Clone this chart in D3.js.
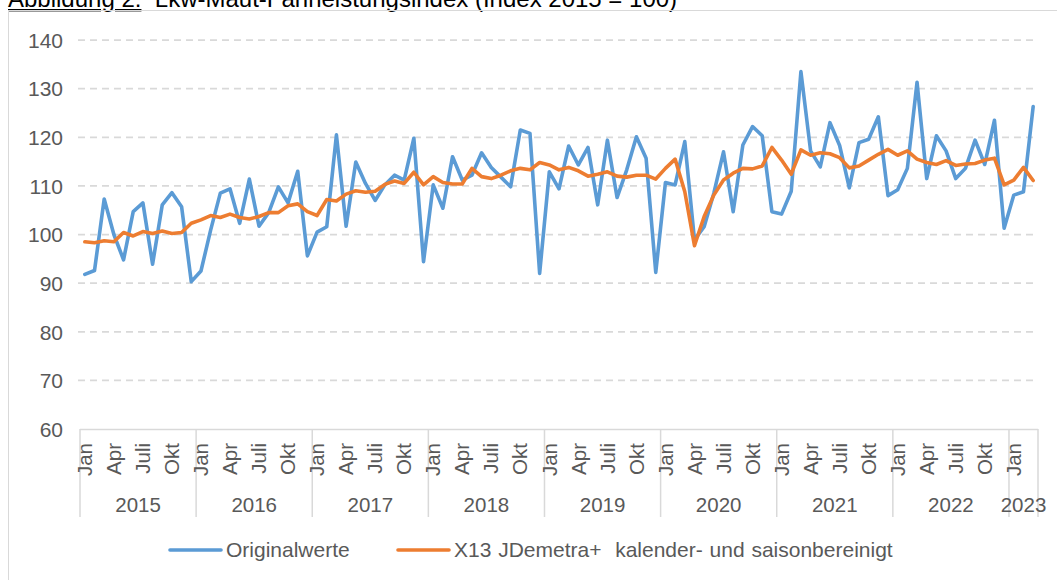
<!DOCTYPE html>
<html>
<head>
<meta charset="utf-8">
<script src="https://cdn.jsdelivr.net/npm/d3@7"></script>
<style>
    body { margin: 0; background: #fff; }
    svg { display: block; font-family: "Liberation Sans", Arial, sans-serif; }
</style>
</head>
<body>
<div id="chart"></div>
<script>
// categories: Jan 2015 .. Mar 2023
var years = ["2015", "2016", "2017", "2018", "2019", "2020", "2021", "2022", "2023"];
var monthsPerYear = [12, 12, 12, 12, 12, 12, 12, 12, 3];
var monthNames = ["Jan", "Feb", "Mär", "Apr", "Mai", "Juni", "Juli", "Aug", "Sep", "Okt", "Nov", "Dez"];
var shownMonths = ["Jan", "Apr", "Juli", "Okt"];
var yTicks = [60, 70, 80, 90, 100, 110, 120, 130, 140];

// Originalwerte
var original = [
    91.8, 92.6, 107.3, 100.0, 94.8, 104.7, 106.5, 93.9, 106.1, 108.6, 105.7, 90.3,
    92.5, 100.9, 108.5, 109.4, 102.3, 111.4, 101.7, 104.5, 109.8, 106.5, 113.0, 95.6,
    100.5, 101.6, 120.5, 101.7, 114.9, 110.5, 107.0, 110.2, 112.2, 111.2, 119.8, 94.4,
    110.2, 105.4, 116.0, 111.2, 112.2, 116.8, 113.8, 111.8, 109.8, 121.5, 120.8, 92.0,
    112.9, 109.4, 118.2, 114.3, 117.9, 106.1, 119.4, 107.6, 113.3, 120.1, 115.7, 92.2,
    110.7, 110.2, 119.1, 98.9, 101.6, 108.5, 117.0, 104.7, 118.4, 122.2, 120.3, 104.7,
    104.2, 108.9, 133.5, 117.2, 113.9, 123.0, 118.3, 109.6, 118.9, 119.6, 124.2, 108.0,
    109.2, 113.6, 131.3, 111.5, 120.3, 117.2, 111.5, 113.6, 119.4, 114.4, 123.5, 101.3,
    108.1, 108.8, 126.3
];

// X13 JDemetra+ kalender- und saisonbereinigt
var adjusted = [
    98.5, 98.3, 98.7, 98.5, 100.4, 99.7, 100.6, 100.2, 100.7, 100.2, 100.4, 102.3,
    103.0, 103.9, 103.5, 104.2, 103.5, 103.2, 103.7, 104.5, 104.5, 105.9, 106.3, 104.7,
    103.9, 107.2, 106.9, 108.3, 109.0, 108.7, 108.9, 110.3, 111.0, 110.5, 112.8, 110.2,
    111.9, 110.7, 110.4, 110.4, 113.6, 111.9, 111.5, 112.2, 113.1, 113.6, 113.3, 114.8,
    114.3, 113.3, 113.8, 113.1, 112.0, 112.4, 112.9, 112.0, 111.8, 112.2, 112.2, 111.4,
    113.6, 115.5, 108.8, 97.7, 103.7, 108.1, 111.2, 112.6, 113.6, 113.5, 114.1, 117.9,
    115.3, 112.4, 117.4, 116.3, 116.8, 116.6, 115.8, 113.7, 114.1, 115.3, 116.5, 117.5,
    116.3, 117.2, 115.5, 114.8, 114.4, 115.2, 114.2, 114.5, 114.6, 115.3, 115.7, 110.2,
    111.2, 113.8, 111.1
];

var seriesNames = ["Originalwerte", "X13 JDemetra+  kalender- und saisonbereinigt"];
var seriesColors = ["#5b9bd5", "#ed7d31"];

var categories = [];
years.forEach(function (yr, yi) {
    for (var m = 0; m < monthsPerYear[yi]; m++) {
        categories.push({year: yr, month: monthNames[m], idx: categories.length});
    }
});

var width = 1057, height = 580;
var plot = {left: 80, right: 1038, top: 40, bottom: 429};

var svg = d3.select("#chart")
    .append("svg")
    .attr("width", width)
    .attr("height", height);

// title (partly cut off at the top, as in the source document)
var title = svg.append("text")
    .attr("x", 8)
    .attr("y", 7)
    .style("font-size", "24px")
    .style("fill", "#000")
    .style("white-space", "pre");
title.append("tspan").style("text-decoration", "underline").text("Abbildung 2:");
title.append("tspan").text("  Lkw-Maut-Fahrleistungsindex (Index 2015 = 100)");

// chart frame
svg.append("rect")
    .attr("x", 8.5)
    .attr("y", 10.5)
    .attr("width", 1060)
    .attr("height", 600)
    .attr("fill", "none")
    .attr("stroke", "#d9d9d9")
    .attr("stroke-width", 1);

var x = d3.scaleBand()
    .domain(categories.map(function (d) { return d.idx; }))
    .range([plot.left, plot.right])
    .paddingInner(0)
    .paddingOuter(0);

var y = d3.scaleLinear()
    .domain([60, 140])
    .range([plot.bottom, plot.top]);

function cx(i) {
    return x(i) + x.bandwidth() / 2;
}

// horizontal dashed gridlines
svg.append("g")
    .selectAll("line")
    .data(yTicks.filter(function (t) { return t > 60; }))
    .enter().append("line")
    .attr("x1", plot.left - 2)
    .attr("x2", plot.right)
    .attr("y1", function (d) { return y(d); })
    .attr("y2", function (d) { return y(d); })
    .attr("stroke", "#d9d9d9")
    .attr("stroke-width", 1.75)
    .attr("stroke-dasharray", "7,5");

// y axis labels
var yAxis = d3.axisLeft(y).tickValues(yTicks).tickSize(0).tickPadding(0);
var yg = svg.append("g")
    .attr("transform", "translate(" + (plot.left - 17) + ",0)")
    .call(yAxis);
yg.select(".domain").remove();
yg.selectAll("text")
    .style("font-size", "21px")
    .style("font-family", "Liberation Sans, Arial, sans-serif")
    .attr("fill", "#595959")
    .attr("dy", "0.35em");

// x axis baseline
svg.append("line")
    .attr("x1", plot.left)
    .attr("x2", plot.right)
    .attr("y1", plot.bottom + 0.5)
    .attr("y2", plot.bottom + 0.5)
    .attr("stroke", "#d9d9d9")
    .attr("stroke-width", 1.5);

// year separators
var yearStarts = [];
var acc = 0;
years.forEach(function (yr, yi) {
    yearStarts.push({year: yr, start: acc, end: acc + monthsPerYear[yi]});
    acc += monthsPerYear[yi];
});

svg.append("g")
    .selectAll("line")
    .data(yearStarts.map(function (d) { return d.start; }).concat([acc]))
    .enter().append("line")
    .attr("x1", function (d) { return d < acc ? x(d) : plot.right; })
    .attr("x2", function (d) { return d < acc ? x(d) : plot.right; })
    .attr("y1", plot.bottom)
    .attr("y2", 517)
    .attr("stroke", "#d9d9d9")
    .attr("stroke-width", 1.5);

// month labels (rotated)
svg.append("g")
    .selectAll("text")
    .data(categories.filter(function (d) { return shownMonths.indexOf(d.month) >= 0; }))
    .enter().append("text")
    .attr("transform", function (d) {
        return "translate(" + cx(d.idx) + "," + (plot.bottom + 14) + ") rotate(-90)";
    })
    .attr("dy", "0.35em")
    .style("text-anchor", "end")
    .style("font-size", "20.5px")
    .attr("fill", "#595959")
    .text(function (d) { return d.month; });

// year labels
svg.append("g")
    .selectAll("text")
    .data(yearStarts)
    .enter().append("text")
    .attr("x", function (d) {
        var x0 = x(d.start);
        var x1 = d.end < acc ? x(d.end) : plot.right;
        return (x0 + x1) / 2;
    })
    .attr("y", 512)
    .style("text-anchor", "middle")
    .style("font-size", "20.5px")
    .attr("fill", "#595959")
    .text(function (d) { return d.year; });

// lines
var line = d3.line()
    .x(function (d, i) { return cx(i); })
    .y(function (d) { return y(d); });

[original, adjusted].forEach(function (s, k) {
    svg.append("path")
        .datum(s)
        .attr("fill", "none")
        .attr("stroke", seriesColors[k])
        .attr("stroke-width", 3.6)
        .attr("stroke-linejoin", "round")
        .attr("stroke-linecap", "round")
        .attr("d", line);
});

// legend
var legendPos = [170, 398];
var legend = svg.selectAll(".legend")
    .data(seriesNames)
    .enter().append("g")
    .attr("class", "legend")
    .attr("transform", function (d, i) {
        return "translate(" + legendPos[i] + ",550)";
    });

legend.append("line")
    .attr("x1", 0)
    .attr("x2", 51)
    .attr("stroke", function (d, i) { return seriesColors[i]; })
    .attr("stroke-width", 3.6)
    .attr("stroke-linecap", "round");

legend.append("text")
    .attr("x", 56)
    .attr("y", 0)
    .attr("dy", "0.35em")
    .style("font-size", "21px")
    .style("white-space", "pre")
    .style("word-spacing", "1px")
    .attr("fill", "#595959")
    .text(function (d) { return d; });
</script>
</body>
</html>
